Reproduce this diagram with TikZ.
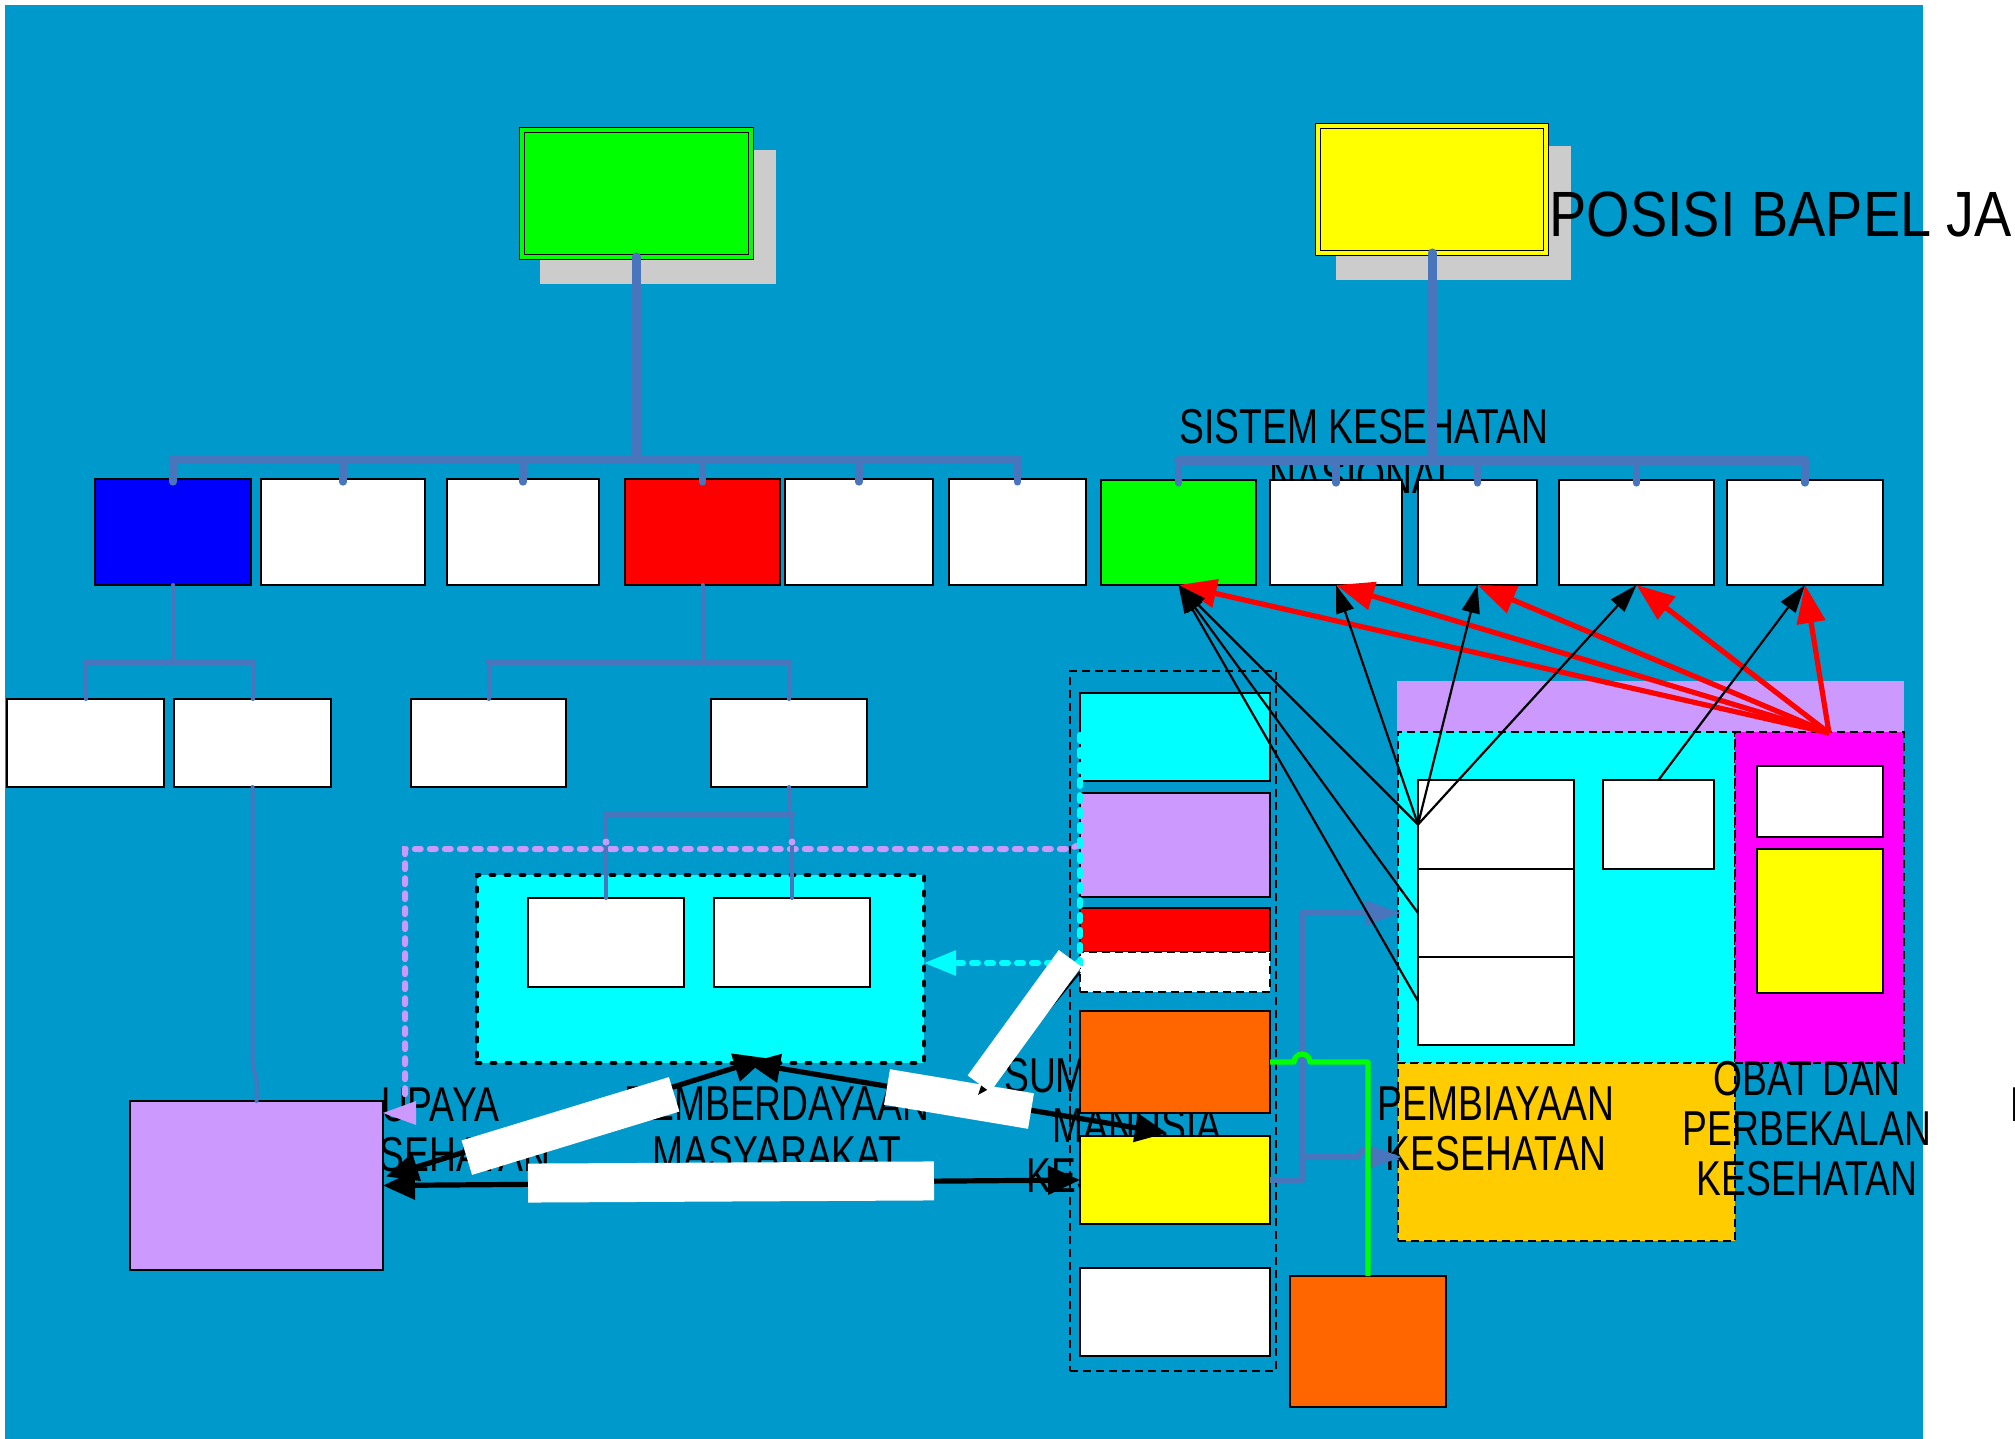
\documentclass[tikz,border=0pt]{standalone}
\usepackage{fontspec}
\setmainfont{Liberation Sans}[FakeStretch=0.76]
\newfontfamily\titlef{Liberation Sans}[FakeStretch=0.873]
\usetikzlibrary{arrows.meta,fit,calc}
\definecolor{bgblue}{HTML}{0099CC}
\definecolor{steel}{RGB}{72,117,187}
\definecolor{shadowgray}{HTML}{CCCCCC}
\definecolor{lilac}{HTML}{CC99FF}
\definecolor{orng}{HTML}{FF6600}
\definecolor{gold}{HTML}{FFCC00}
\definecolor{aqua}{HTML}{00FFFF}
\definecolor{lime}{HTML}{00FF00}
\definecolor{mag}{HTML}{FF00FF}
\definecolor{yel}{HTML}{FFFF00}
\tikzset{
 box/.style={draw=black, line width=1pt, inner sep=0pt, outer sep=0pt},
 dbox/.style={draw=black, line width=1pt, dash pattern=on 4pt off 2.5pt, inner sep=0pt, outer sep=0pt},
 dbl/.style={draw=black, line width=0.6pt, double distance=1.8pt, inner sep=0pt, outer sep=0pt},
 trunk/.style={draw=steel, line width=4.5pt, line cap=round, line join=round},
 drop/.style={draw=steel, line width=3.6pt, line cap=round},
 branch/.style={draw=steel, line width=3pt, line cap=round},
 twig/.style={draw=steel, line width=2pt, line cap=round},
 stl/.style={draw=steel, line width=2.8pt, line join=round},
 stlarr/.style={stl, -{Triangle[length=18pt,width=12pt]}},
 grn/.style={draw=lime, line width=2.6pt, line join=round},
 redarr/.style={draw=red, line width=2.6pt, -{Triangle[length=19pt,width=14pt]}},
 blkarr/.style={draw=black, line width=1.1pt, -{Triangle[length=14pt,width=9pt]}},
 fatarr/.style={draw=black, line width=2.6pt, {Triangle[length=16pt,width=14pt]}-{Triangle[length=16pt,width=14pt]}},
 smallarr/.style={draw=black, line width=1pt, -{Triangle[length=8pt,width=6pt]}},
 cydash/.style={draw=aqua, line width=3pt, dash pattern=on 3pt off 4.5pt, line cap=round},
 lidash/.style={draw=lilac, line width=3pt, dash pattern=on 3pt off 4.5pt, line cap=round},
 lab/.style={inner sep=0pt, anchor=north, align=center, font=\fontsize{24.5}{25}\selectfont},
 wbar/.style={fill=white, draw=none, inner sep=0pt, outer sep=0pt},
}
\begin{document}
\begin{tikzpicture}[x=0.5pt,y=-0.5pt]
\useasboundingbox (0,0) rectangle (2015,1439);
\clip (0,0) rectangle (2015,1439);
\fill[white] (0,0) rectangle (2015,1439);
\fill[bgblue] (5,5) rectangle (1923,1439);

% texts lying under the boxes
\node[lab] (tskn) at (1364,409) {SISTEM KESEHATAN\\NASIONAL};
\node[lab] (tuk) at (440,1087) {UPAYA\\KESEHATAN};
\node[lab] (tpm) at (777,1086) {PEMBERDAYAAN\\MASYARAKAT};
\node[lab] (tsdm) at (1137,1058) {SUMBER DAYA\\MANUSIA\\KESEHATAN};

% top boxes with shadows
\fill[shadowgray] (540,150) rectangle (776,284);
\fill[shadowgray] (1336,146) rectangle (1571,280);
\node[dbl, double=lime, fill=lime, fit={(522,130) (751,257)}] (topG) {};
\node[dbl, double=yel, fill=yel, fit={(1318,126) (1546,253)}] (topY) {};
\node[anchor=north west, inner sep=0pt, font=\titlef\fontsize{32}{34}\selectfont] (title) at (1549,191) {POSISI BAPEL JA};

% first row
\node[box, fill=blue,  fit={(95,479) (251,585)}] (b1) {};
\node[box, fill=white, fit={(261,479) (425,585)}] (b2) {};
\node[box, fill=white, fit={(447,479) (599,585)}] (b3) {};
\node[box, fill=red,   fit={(625,479) (780,585)}] (b4) {};
\node[box, fill=white, fit={(785,479) (933,585)}] (b5) {};
\node[box, fill=white, fit={(949,479) (1086,585)}] (b6) {};
\node[box, fill=lime,  fit={(1101,480) (1256,585)}] (s1) {};
\node[box, fill=white, fit={(1270,480) (1402,585)}] (s2) {};
\node[box, fill=white, fit={(1418,480) (1537,585)}] (s3) {};
\node[box, fill=white, fit={(1559,480) (1714,585)}] (s4) {};
\node[box, fill=white, fit={(1727,480) (1883,585)}] (s5) {};

% second row
\node[box, fill=white, fit={(7,699) (164,787)}] (ra) {};
\node[box, fill=white, fit={(174,699) (331,787)}] (rb) {};
\node[box, fill=white, fit={(411,699) (566,787)}] (rc) {};
\node[box, fill=white, fit={(711,699) (867,787)}] (rd) {};

% cyan dotted box
\node[draw=black, fill=aqua, line width=2.4pt, dash pattern=on 1.5pt off 6pt, line cap=round, inner sep=0pt, outer sep=0pt, fit={(477,875) (924,1063)}] (cbox) {};
\node[box, fill=white, fit={(528,898) (684,987)}] (wl) {};
\node[box, fill=white, fit={(714,898) (870,987)}] (wr) {};

% purple box
\node[box, fill=lilac, fit={(130,1101) (383,1270)}] (pb) {};

% SDM column
\node[dbox, fit={(1070,671) (1276,1371)}] (col) {};
\node[box, fill=aqua,   fit={(1080,693) (1270,781)}] (c1) {};
\node[box, fill=lilac,  fit={(1080,793) (1270,897)}] (c2) {};
\node[box, fill=red,    fit={(1080,908) (1270,952)}] (c3) {};
\node[dbox, fill=white, fit={(1080,952) (1270,992)}] (c4) {};
\node[box, fill=orng,   fit={(1080,1011) (1270,1113)}] (c5) {};
\node[box, fill=yel,    fit={(1080,1136) (1270,1224)}] (c6) {};
\node[box, fill=white,  fit={(1080,1268) (1270,1356)}] (c7) {};
\node[box, fill=orng,   fit={(1290,1276) (1446,1407)}] (ob) {};

% right block
\fill[lilac] (1397,681) rectangle (1904,732);
\node[dbox, fill=aqua, fit={(1398,732) (1735,1063)}] (cy) {};
\node[dbox, fill=mag,  fit={(1735,732) (1904,1063)}] (mg) {};
\node[dbox, fill=gold, fit={(1398,1063) (1735,1241)}] (gd) {};
\node[box, fill=white, fit={(1418,780) (1574,869)}] (w1) {};
\node[box, fill=white, fit={(1418,869) (1574,957)}] (w2) {};
\node[box, fill=white, fit={(1418,957) (1574,1045)}] (w3) {};
\node[box, fill=white, fit={(1603,780) (1714,869)}] (w4) {};
\node[box, fill=white, fit={(1757,766) (1883,837)}] (m1) {};
\node[box, fill=yel,   fit={(1757,849) (1883,993)}] (m2) {};

% texts over the boxes
\node[lab] (tpk) at (1496,1086) {PEMBIAYAAN\\KESEHATAN};
\node[lab] (tobat) at (1807,1061) {OBAT DAN\\PERBEKALAN\\KESEHATAN};
\node[lab, anchor=north west] (tman) at (2010,1087) {MANAJEMEN\\KESEHATAN};

% tree connectors
\coordinate (L1) at (0,459);
\coordinate (R1) at (0,460);
\coordinate (L2) at (0,662);
\coordinate (L3) at (0,814);
\draw[trunk] (topG.south) -- (topG.south |- L1);
\draw[trunk] (b1.north |- L1) -- (b6.north |- L1);
\foreach \n in {b1,b2,b3,b4,b5,b6} \draw[drop] (\n.north |- L1) -- ($(\n.north)+(0,3)$);
\draw[trunk] (topY.south) -- (topY.south |- R1);
\draw[trunk] (s1.north |- R1) -- (s5.north |- R1);
\foreach \n in {s1,s2,s3,s4,s5} \draw[drop] (\n.north |- R1) -- ($(\n.north)+(0,3)$);

\draw[twig] (b1.south) -- (b1.south |- L2);
\draw[branch] (ra.north |- L2) -- (rb.north |- L2);
\draw[twig] (ra.north |- L2) -- (ra.north);
\draw[twig] (rb.north |- L2) -- (rb.north);
\draw[twig] (b4.south) -- (b4.south |- L2);
\draw[branch] (rc.north |- L2) -- (rd.north |- L2);
\draw[twig] (rc.north |- L2) -- (rc.north);
\draw[twig] (rd.north |- L2) -- (rd.north);

\draw[twig] (rb.south) -- ($(rb.south)+(0,277)$) -- (pb.north |- 0,1080) -- (pb.north);

% lilac dotted connector
\draw[lidash] (c2.west) .. controls (1076,846) .. (1070,849) -- (405,849) -- (405,1097);
\fill[lilac] (pb.east |- 0,1113) -- ++(33,-12) -- ++(0,24) -- cycle;

\draw[twig] (rd.south) -- (rd.south |- L3);
\draw[branch] (wl.north |- L3) -- (wr.north |- L3);
\draw[twig] (wl.north |- L3) -- (wl.north);
\draw[twig] (wr.north |- L3) -- (wr.north);
\fill[lilac] (wl.north |- 0,842) circle (3.5);
\fill[lilac] (wr.north |- 0,842) circle (3.5);

% cyan dotted connector
\draw[cydash, -{Triangle[length=16pt,width=12pt]}] (1080,735) -- (1080,963) -- (cbox.east |- 0,963);

% steel bracket connector
\coordinate (hiY) at (0,913);
\coordinate (loY) at (0,1157);
\draw[stlarr] (c6.east) -- (1302,1180) -- (1302,913) -- ($(cy.west |- hiY)+(3,0)$);
\draw[stlarr] (1302,1157) -- (1359,1157) arc (180:360:8) -- ($(gd.west |- loY)+(4,0)$);

% green connector
\draw[grn] (c5.east) -- (1294,1062) arc (180:360:8) -- (ob.north |- 0,1062) -- (ob.north);

% thick black arrows
\coordinate (m1) at (766,1058);
\coordinate (m2) at (748,1063);
\draw[fatarr] (pb.east) -- (c6.west);
\draw[fatarr] ($(pb.east)+(3,-9)$) -- (m1);
\draw[fatarr] ($(c6.north)+(-8,-3)$) -- (m2);

% white label bars
\node[wbar, minimum width=203pt, minimum height=19.5pt, rotate=0.3] (wb0) at (731,1182) {};
\node[wbar, minimum width=108.4pt, minimum height=18pt, rotate=17] (wb1) at (570.5,1126) {};
\node[wbar, minimum width=73pt, minimum height=18pt, rotate=-9.5] (wb2) at (959,1099) {};
\draw[smallarr] (c4.west) -- (978,1095);
\node[wbar, minimum width=77.5pt, minimum height=14pt, rotate=54] (wb3) at (1024.5,1021) {};

% red arrows
\coordinate (rsrc) at (1829,733);
\foreach \n in {s1,s2,s3,s4,s5} \draw[redarr] (rsrc) -- (\n.south);

% black arrows
\draw[blkarr] (w1.west) -- (s1.south);
\draw[blkarr] (w2.west) -- (s1.south);
\draw[blkarr] (w3.west) -- (s1.south);
\draw[blkarr] (w1.west) -- (s2.south);
\draw[blkarr] (w1.west) -- (s3.south);
\draw[blkarr] (w1.west) -- (s4.south);
\draw[blkarr] (w4.north) -- (s5.south);
\end{tikzpicture}
\end{document}
